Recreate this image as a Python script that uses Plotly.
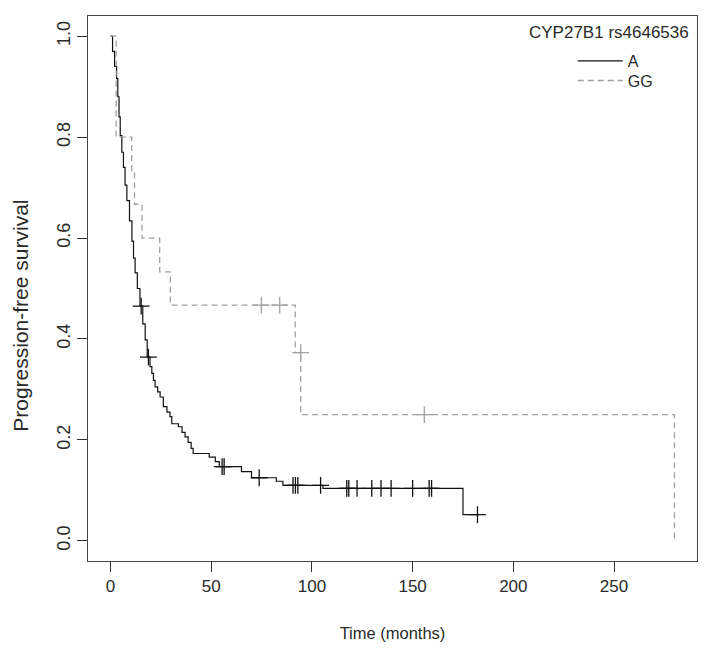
import plotly.graph_objects as go

# Kaplan-Meier step curves (time in months, survival probability)
a_time = [0, 1.0, 2.0, 3.0, 3.6, 4.2, 4.8, 5.6, 6.4, 7.2, 8.1, 9.4, 10.6, 11.4, 12.2, 13.3,
          14.6, 16.0, 17.2, 18.2, 19.6, 20.5, 21.3, 22.1, 23.4, 24.6, 26.2, 28.0, 29.5, 30.4,
          33.7, 35.5, 37.0, 38.5, 40.0, 41.0, 49.0, 52.0, 54.0, 65.0, 70.0, 82.3, 85.6,
          105.5, 175.0, 183.0]
a_surv = [1.0, 0.97, 0.94, 0.916, 0.88, 0.84, 0.803, 0.77, 0.74, 0.705, 0.674, 0.634, 0.594,
          0.56, 0.531, 0.50, 0.465, 0.43, 0.398, 0.364, 0.345, 0.332, 0.318, 0.305, 0.295,
          0.285, 0.266, 0.255, 0.246, 0.232, 0.226, 0.215, 0.206, 0.195, 0.183, 0.173, 0.166,
          0.157, 0.147, 0.137, 0.125, 0.118, 0.11, 0.104, 0.052, 0.052]

a_cens_time = [15.2, 18.8, 55.4, 56.4, 73.8, 90.6, 91.8, 93.0, 104.3, 117.3, 118.3, 122.4,
               129.7, 134.3, 139.3, 150.0, 158.2, 159.4, 182.2]
a_cens_surv = [0.465, 0.364, 0.147, 0.147, 0.125, 0.11, 0.11, 0.11, 0.11, 0.104, 0.104, 0.104,
               0.104, 0.104, 0.104, 0.104, 0.104, 0.104, 0.052]

gg_time = [0, 2.8, 10.5, 11.9, 15.6, 24.4, 29.7, 91.7, 94.4, 280.0]
gg_surv = [1.0, 0.8, 0.733, 0.667, 0.6, 0.533, 0.467, 0.373, 0.25, 0.0]

gg_cens_time = [74.9, 84.0, 94.4, 155.8]
gg_cens_surv = [0.467, 0.467, 0.373, 0.25]

x_ticks = [0, 50, 100, 150, 200, 250]
y_ticks = [0.0, 0.2, 0.4, 0.6, 0.8, 1.0]
y_ticktext = ["0.0", "0.2", "0.4", "0.6", "0.8", "1.0"]

legend_title = "CYP27B1 rs4646536"
x_title = "Time (months)"
y_title = "Progression-free survival"

A_COLOR = "#111111"
GG_COLOR = "#a0a0a0"
FONT = "Liberation Sans, Arial, sans-serif"
TXT = "#2a2a2a"

fig = go.Figure()
fig.add_trace(go.Scatter(x=a_time, y=a_surv, mode="lines", line_shape="hv",
                         line=dict(color=A_COLOR, width=1.2), name="A", legend="legend"))
fig.add_trace(go.Scatter(x=gg_time, y=gg_surv, mode="lines", line_shape="hv",
                         line=dict(color=GG_COLOR, width=1.3, dash="6px,4px"), name="GG",
                         legend="legend2"))
fig.add_trace(go.Scatter(x=a_cens_time, y=a_cens_surv, mode="markers", showlegend=False,
                         marker=dict(symbol="cross-thin", size=12,
                                     line=dict(color=A_COLOR, width=1.3))))
fig.add_trace(go.Scatter(x=gg_cens_time, y=gg_cens_surv, mode="markers", showlegend=False,
                         marker=dict(symbol="cross-thin", size=12,
                                     line=dict(color=GG_COLOR, width=1.3))))

leg_common = dict(x=0.796, xanchor="left", yanchor="middle", bgcolor="rgba(0,0,0,0)",
                  font=dict(family=FONT, size=16, color=TXT), itemwidth=45)

fig.update_layout(
    width=704, height=646,
    margin=dict(l=80, r=15, t=8, b=93),
    paper_bgcolor="white", plot_bgcolor="white",
    font=dict(family=FONT, size=17, color=TXT),
    legend=dict(y=0.9175, **leg_common),
    legend2=dict(y=0.8815, **leg_common),
    annotations=[
        dict(text=legend_title, xref="paper", yref="paper", x=0.990, y=0.9706,
             xanchor="right", yanchor="middle", showarrow=False,
             font=dict(family=FONT, size=17, color=TXT)),
        dict(text=y_title, xref="paper", yref="paper", x=-0.110, y=0.45, textangle=-90,
             xanchor="center", yanchor="middle", showarrow=False,
             font=dict(family=FONT, size=21, color=TXT)),
    ],
)
fig.update_xaxes(range=[-11.2, 291.2], tickvals=x_ticks, ticks="outside", ticklen=10,
                 tickcolor="#333", showline=True, mirror=True, linecolor="#444",
                 linewidth=1, showgrid=False, zeroline=False, automargin=False,
                 tickfont=dict(family=FONT, size=17),
                 title=dict(text=x_title, standoff=32, font=dict(family=FONT, size=16.5)))
fig.update_yaxes(range=[-0.04, 1.04], tickvals=y_ticks, ticktext=y_ticktext, tickangle=-90,
                 ticks="outside", ticklen=10, tickcolor="#333", showline=True, mirror=True,
                 linecolor="#444", linewidth=1, showgrid=False, zeroline=False,
                 automargin=False, tickfont=dict(family=FONT, size=18))

fig.write_html("out.html")
